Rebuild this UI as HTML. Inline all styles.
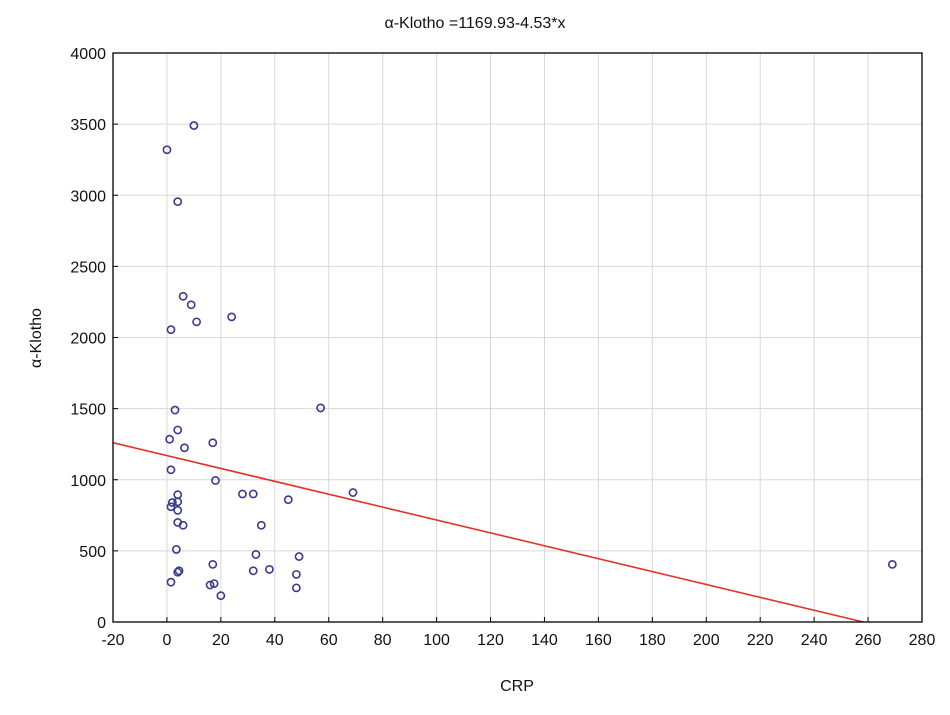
<!DOCTYPE html>
<html><head><meta charset="utf-8"><style>
body{margin:0;background:#fff;}
svg text{font-family:"Liberation Sans",Arial,sans-serif;fill:#111;}
</style></head><body>
<svg id="chart" width="950" height="710" xmlns="http://www.w3.org/2000/svg">
<text x="475" y="28" font-size="16" text-anchor="middle">α-Klotho =1169.93-4.53*x</text>
<text x="517" y="691" font-size="16" text-anchor="middle">CRP</text>
<text x="41" y="338" font-size="16" text-anchor="middle" transform="rotate(-90 41 338)">α-Klotho</text>
<g id="grid"></g><g id="ticks"></g><g id="pts"></g>
<rect x="113" y="53" width="809" height="569" fill="none" stroke="#000" stroke-width="1.3"/>
</svg>
<script>
const xTicks=[-20,0,20,40,60,80,100,120,140,160,180,200,220,240,260,280];
const yTicks=[0,500,1000,1500,2000,2500,3000,3500,4000];
const crp=[0,10,4,6,9,11,1.5,24,3,4,1,6.5,17,57,1.5,18,69,28,32,45,4,2,1.5,4,4,4,6,35,33,49,3.5,17,4,4.5,1.5,32,38,48,16,17.5,20,48,269];
const klotho=[3320,3490,2955,2290,2230,2110,2055,2145,1490,1350,1285,1225,1260,1505,1070,995,910,900,900,860,895,840,810,845,785,700,680,680,475,460,510,405,350,360,280,360,370,335,260,270,185,240,405];
const intercept=1169.93, slope=-4.53;
const X0=113,X1=922,Y0=622,Y1=53;
const sx=v=>X0+(v+20)/300*(X1-X0);
const sy=v=>Y0-v/4000*(Y0-Y1);
const NS="http://www.w3.org/2000/svg";
const g=document.getElementById('grid'),t=document.getElementById('ticks'),p=document.getElementById('pts');
function mk(tag,a,par){const e=document.createElementNS(NS,tag);for(const k in a)e.setAttribute(k,a[k]);par.appendChild(e);return e;}
xTicks.forEach(v=>{
 const l=mk('line',{x1:sx(v),x2:sx(v),y1:Y1,y2:Y0,stroke:'#d8d8d8','stroke-width':1},g);
 
 
 mk('line',{x1:sx(v),x2:sx(v),y1:Y0,y2:Y0-5,stroke:'#000'},t);
 const tx=mk('text',{x:sx(v),y:Y0+23,'font-size':16,'text-anchor':'middle'},t);tx.textContent=v;
 
 
});
yTicks.forEach(v=>{
 const l=mk('line',{x1:X0,x2:X1,y1:sy(v),y2:sy(v),stroke:'#d8d8d8','stroke-width':1},g);
 
 
 mk('line',{x1:X0,x2:X0+5,y1:sy(v),y2:sy(v),stroke:'#000'},t);
 const tx=mk('text',{x:X0-7,y:sy(v)+6,'font-size':16,'text-anchor':'end'},t);tx.textContent=v;
 
 
});
const xEnd=-intercept/slope;
const fl=mk('line',{x1:sx(-20),y1:sy(intercept+slope*-20),x2:sx(xEnd),y2:sy(0),stroke:'#e0332a','stroke-width':1.6},p);


crp.forEach((v,i)=>{
 const c=mk('circle',{cx:sx(v),cy:sy(klotho[i]),r:3.6,fill:'none',stroke:'#3a3a8c','stroke-width':1.6},p);
 
 
});
</script>
</body></html>
